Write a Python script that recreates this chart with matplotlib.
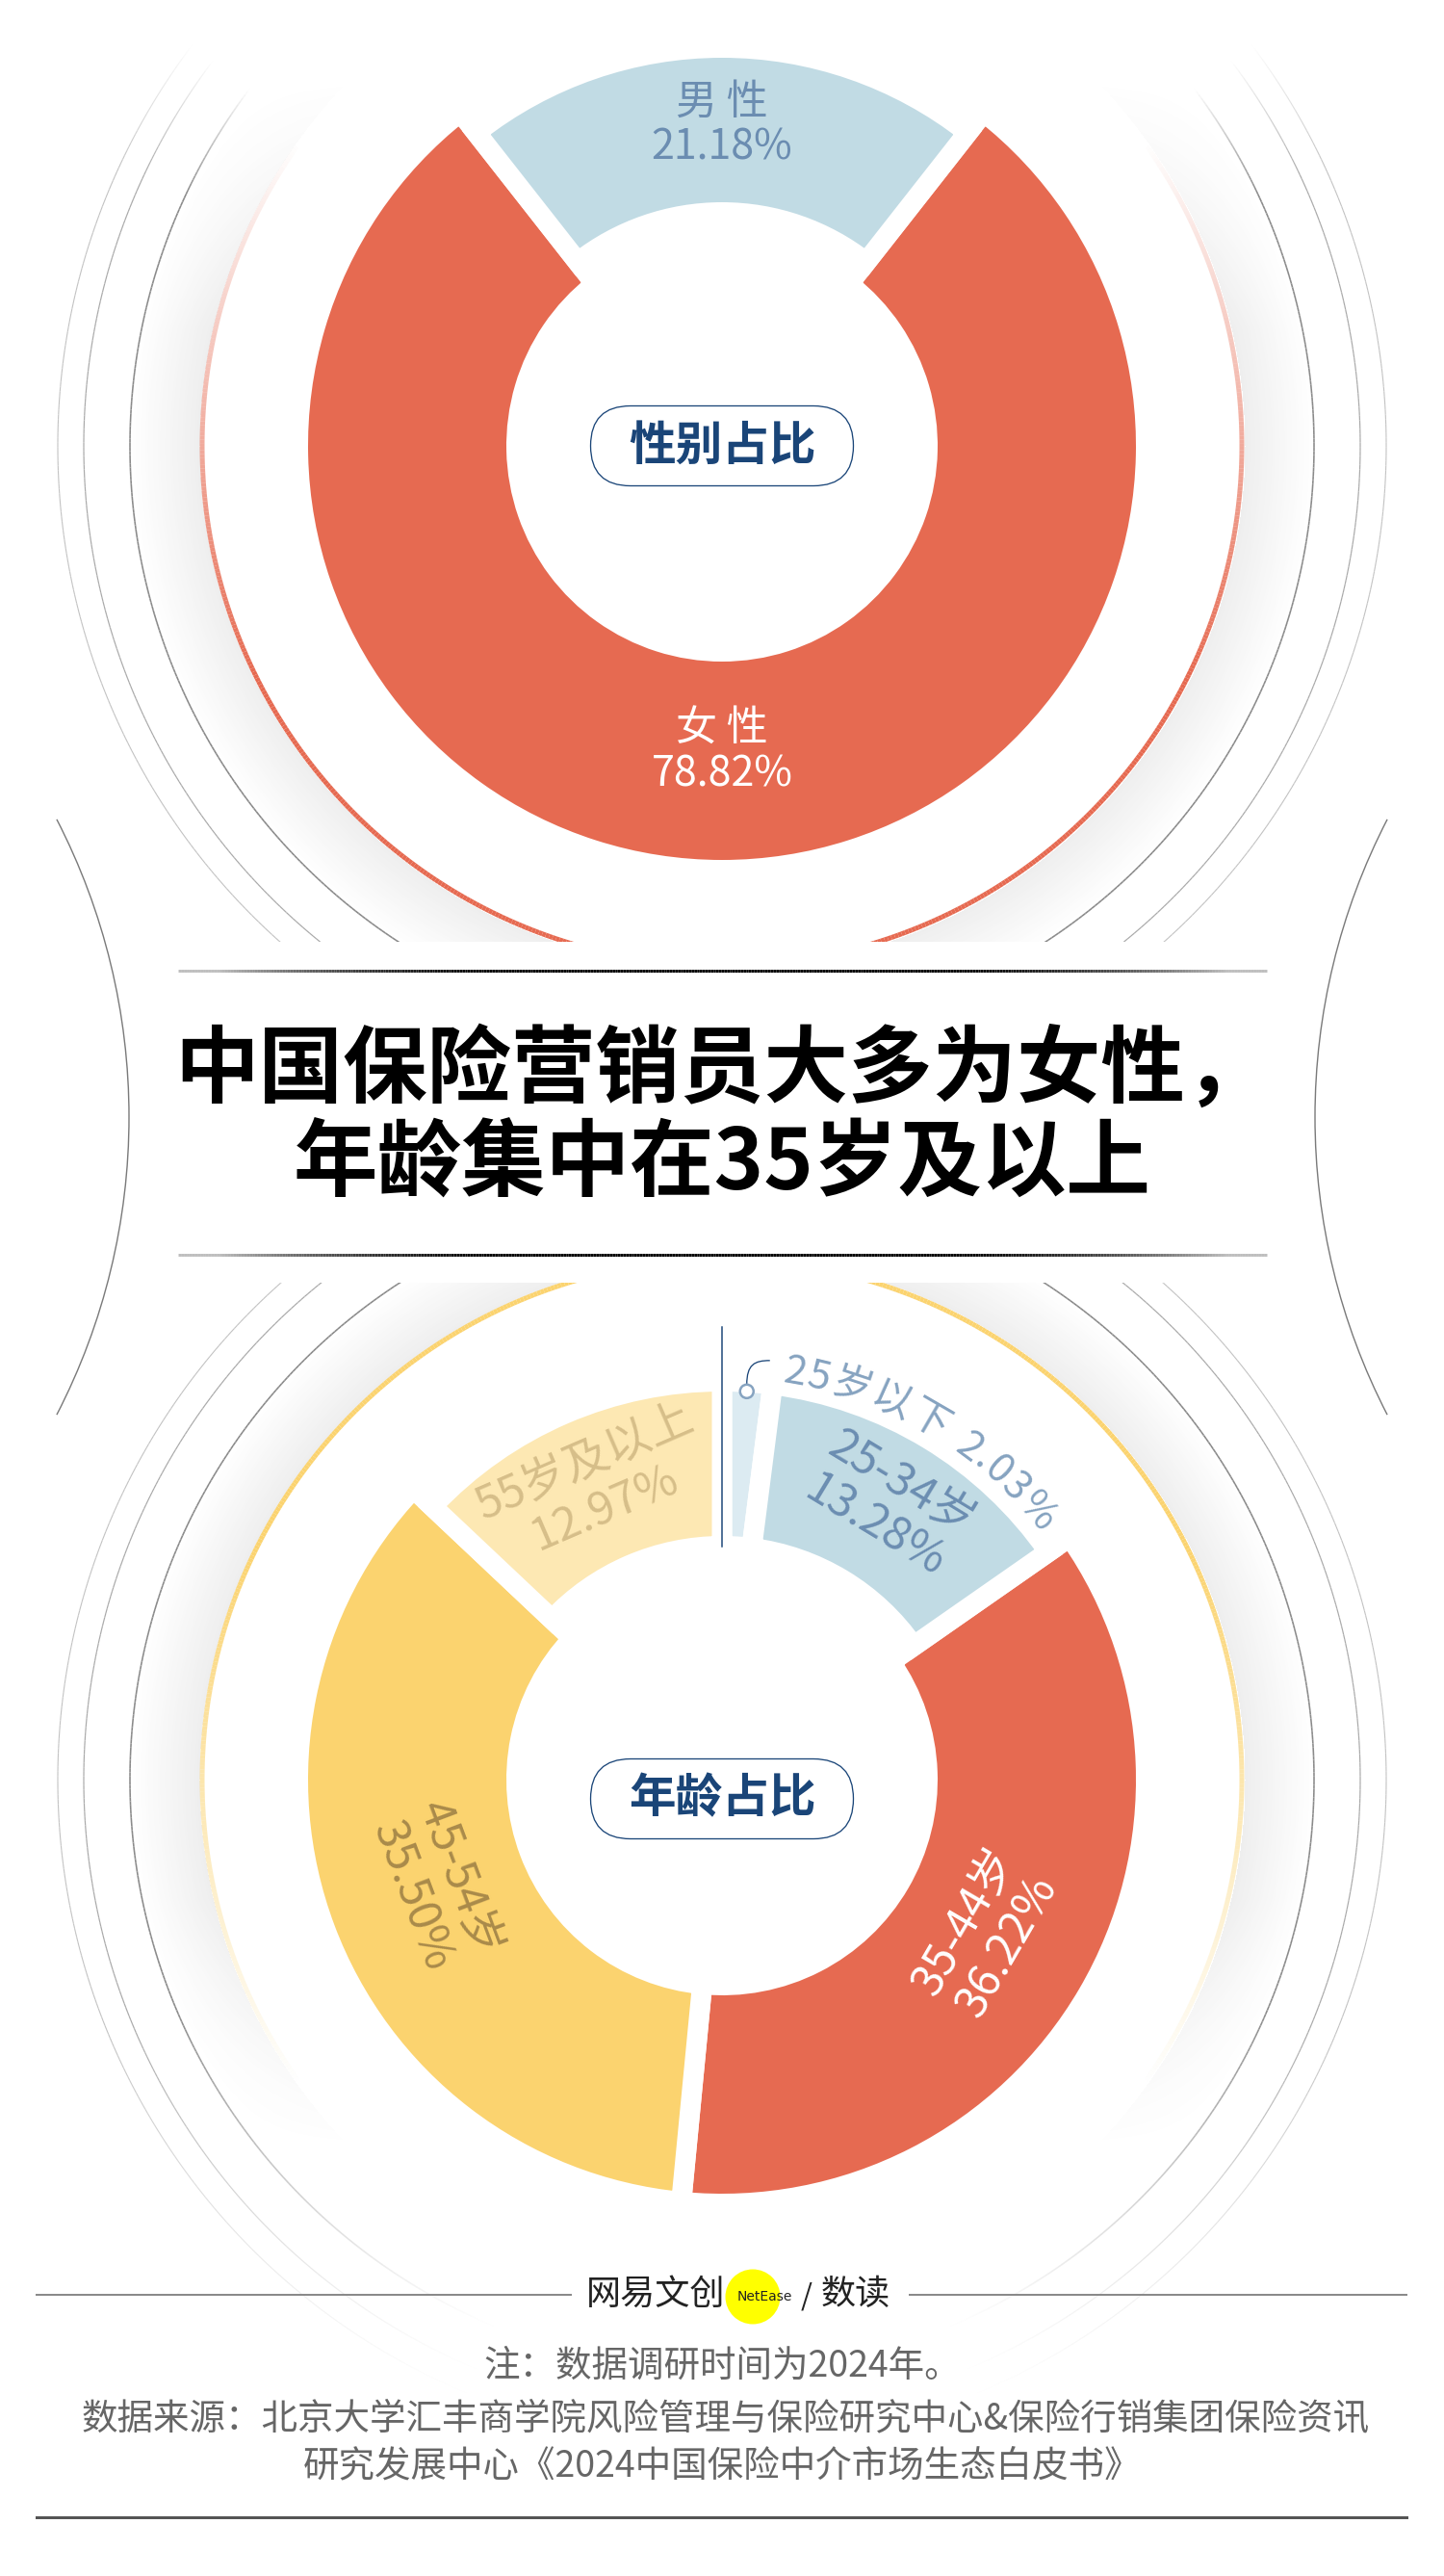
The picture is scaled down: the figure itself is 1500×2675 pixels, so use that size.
import numpy as np
import matplotlib
import matplotlib.pyplot as plt
from matplotlib.collections import LineCollection
from matplotlib.patches import FancyBboxPatch, Circle, Rectangle, Arc, PathPatch
from matplotlib.path import Path
from matplotlib.font_manager import FontProperties

plt.rcParams['font.family'] = ['Noto Sans CJK SC', 'DejaVu Sans']

# ---- data
gender_labels = ['男 性', '女 性']
gender_share = [21.18, 78.82]
age_labels = ['25岁以下', '25-34岁', '35-44岁', '45-54岁', '55岁及以上']
age_share = [2.03, 13.28, 36.22, 35.50, 12.97]
title_lines = ['中国保险营销员大多为女性，', '年龄集中在35岁及以上']
center_titles = ['性别占比', '年龄占比']
note_text = '注：数据调研时间为2024年。'
source_lines = ['数据来源：北京大学汇丰商学院风险管理与保险研究中心&保险行销集团保险资讯',
                '研究发展中心《2024中国保险中介市场生态白皮书》']

# ---- style
W, H = 1500, 2675
CX = 750
TOP_CY, BOT_CY = 463, 1848
CORAL, BLUE, PALE_BLUE = '#e66a51', '#c1dbe4', '#dcebf2'
YELLOW, PALE_YELLOW = '#fbd36f', '#fde8b3'
NAVY = '#1a4578'
gender_colors = [BLUE, CORAL]
gender_thick = [False, True]
gender_text = ['#6b8db1', 'white']
age_colors = [PALE_BLUE, BLUE, CORAL, YELLOW, PALE_YELLOW]
age_thick = [False, False, True, True, False]
age_text = ['#86a3c0', '#6b8db1', 'white', '#a98a4a', '#d6be89']
PX = 0.72  # points per pixel at dpi 100


def Y(y):
    return H - y


fig = plt.figure(figsize=(15, 26.75), dpi=100)
ax = fig.add_axes([0, 0, 1, 1])

# soft grey shadow outside the coloured rings
yy, xx = np.mgrid[0:H, 0:W].astype(np.float32)
shade = np.zeros((H, W), np.float32)
for cy, flip in [(TOP_CY, False), (BOT_CY, True)]:
    d = np.hypot(xx - CX, yy - cy)
    radial = np.clip(1 - (d - 543) / 72, 0, 1) * (d > 543)
    ym = (TOP_CY + cy - yy) if flip else yy
    ang = np.clip((ym - 80) / 260, 0, 1)
    shade += 0.11 * radial * ang
rgba = np.zeros((H, W, 4), np.float32)
rgba[..., :3] = 0.4
rgba[..., 3] = shade
ax.imshow(rgba, extent=(0, W, 0, H), origin='upper', interpolation='nearest', zorder=0)


def grad_arc(cy, r, color, lw_px, alpha_of, n=900, z=1):
    th = np.deg2rad(np.linspace(0, 360, n))
    x = CX + r * np.sin(th)
    y = cy - r * np.cos(th)
    pts = np.column_stack([x, Y(y)])
    segs = np.stack([pts[:-1], pts[1:]], axis=1)
    ymid = (y[:-1] + y[1:]) / 2
    thmid = np.rad2deg((th[:-1] + th[1:]) / 2)
    a = np.clip(alpha_of(thmid, ymid), 0, 1)
    rgb = np.array(matplotlib.colors.to_rgb(color))
    cols = np.column_stack([np.tile(rgb, (len(a), 1)), a])
    ax.add_collection(LineCollection(segs, colors=cols, linewidths=lw_px * PX,
                                     zorder=z, capstyle='butt'))


grey_rings = [(615, '#8a8a8a', 1.6), (663, '#a9a9a9', 1.2), (690, '#c2c2c2', 1.1)]

# top donut rings
grad_arc(TOP_CY, 540, CORAL, 5, lambda t, y: (y - 150) / 550)
for r, c, lw in grey_rings:
    grad_arc(TOP_CY, r, c, lw, lambda t, y: (np.minimum(t, 360 - t) - 53) / 12)
# bottom donut rings
grad_arc(BOT_CY, 540, YELLOW, 5, lambda t, y: ((TOP_CY + BOT_CY - y) - 150) / 550)
for r, c, lw in grey_rings:
    grad_arc(BOT_CY, r, c, lw, lambda t, y: ((np.abs(180 - t) - 22) / 45) ** 1.5)

# title band
ax.add_patch(Rectangle((0, Y(1332)), W, 1332 - 978, fc='white', ec='none', zorder=3))
ax.add_patch(Arc((-540, Y(1160)), 1348, 1348, theta1=-27.3, theta2=27.3,
                 color='#7a7a7a', lw=1.4 * PX, zorder=4))
ax.add_patch(Arc((2040, Y(1160)), 1348, 1348, theta1=152.7, theta2=207.3,
                 color='#7a7a7a', lw=1.4 * PX, zorder=4))


def grad_hline(y, x0, x1, lw_px):
    xs = np.linspace(x0, x1, 400)
    pts = np.column_stack([xs, np.full_like(xs, Y(y))])
    segs = np.stack([pts[:-1], pts[1:]], axis=1)
    t = np.abs(((xs[:-1] + xs[1:]) / 2 - (x0 + x1) / 2) / ((x1 - x0) / 2))
    a = np.clip(1.05 - t ** 3, 0.25, 1)
    cols = np.column_stack([np.zeros((len(a), 3)), a])
    ax.add_collection(LineCollection(segs, colors=cols, linewidths=lw_px * PX,
                                     zorder=4, capstyle='butt'))


grad_hline(1008, 185, 1316, 3)
grad_hline(1303, 185, 1316, 3)
ax.text(CX, Y(1113), title_lines[0], ha='center', va='center', fontsize=63,
        fontweight='black', color='black', zorder=5)
ax.text(CX, Y(1210), title_lines[1], ha='center', va='center', fontsize=63,
        fontweight='black', color='black', zorder=5)


# donuts; angles are clockwise from 12 o'clock, start_cw is where the first slice begins
def donut(cy, shares, colors, thick, start_cw=0.0):
    gap = 21
    for big, r_out, r_in in [(True, 430, 224), (False, 403, 253)]:
        wedges, _ = ax.pie(shares, colors=colors, startangle=90 - start_cw,
                           counterclock=False, center=(CX, Y(cy)), radius=r_out + gap / 2,
                           wedgeprops=dict(width=r_out - r_in + gap, edgecolor='white',
                                           linewidth=gap * PX))
        for w, t in zip(wedges, thick):
            w.set_visible(t == big)
            w.set_zorder(2)


def mid_angles(shares, start_cw=0.0):
    s = np.asarray(shares, float)
    return start_cw + (np.cumsum(s) - s / 2) / s.sum() * 360


def wedge_label(cy, ang, thick, l1, l2, color, rotate, fs=31):
    r = 318 if thick else 333
    th = np.deg2rad(ang)
    x, y = CX + r * np.sin(th), Y(cy) + r * np.cos(th)
    rot = 0
    if rotate:
        rot = (-ang) % 360
        if 90 < rot <= 270:
            rot -= 180
        elif rot > 270:
            rot -= 360
    up = np.deg2rad(rot + 90)
    off = 0.55 * fs / PX
    for txt, sgn in [(l1, 1), (l2, -1)]:
        ax.text(x + sgn * off * np.cos(up), y + sgn * off * np.sin(up), txt,
                rotation=rot, rotation_mode='anchor', ha='center', va='center',
                fontsize=fs, color=color, zorder=5)


def center_box(cy, label, dy=0):
    yc = Y(cy + dy)
    ax.add_patch(FancyBboxPatch((CX - 136.5, yc - 41.5), 273, 83,
                                boxstyle='round,pad=0,rounding_size=41.5',
                                fc='white', ec=NAVY, lw=1.3 * PX, zorder=5))
    ax.text(CX, yc, label, ha='center', va='center', fontsize=35,
            fontweight='bold', color=NAVY, zorder=6)


# male slice centred on 12 o'clock
g_start = -gender_share[0] / sum(gender_share) * 180
donut(TOP_CY, gender_share, gender_colors, gender_thick, g_start)
for a, lab, s, t, c in zip(mid_angles(gender_share, g_start), gender_labels, gender_share,
                           gender_thick, gender_text):
    wedge_label(TOP_CY, a, t, lab, f'{s:.2f}%', c, rotate=False, fs=31)
center_box(TOP_CY, center_titles[0])

donut(BOT_CY, age_share, age_colors, age_thick)
age_mid = mid_angles(age_share)
for i in range(1, len(age_share)):
    wedge_label(BOT_CY, age_mid[i], age_thick[i], age_labels[i],
                f'{age_share[i]:.2f}%', age_text[i], rotate=True, fs=34)
center_box(BOT_CY, center_titles[1], dy=20)

# divider line at 12 o'clock
ax.plot([CX, CX], [Y(BOT_CY - 242), Y(BOT_CY - 470)], color=NAVY, lw=1.5 * PX, zorder=5)

# callout for smallest slice
th0 = np.deg2rad(age_mid[0])
mx, my = CX + 404 * np.sin(th0), Y(BOT_CY) + 404 * np.cos(th0)
hook = Path([(mx, my + 7), (mx, my + 28), (mx + 8, my + 32), (mx + 24, my + 32)],
            [Path.MOVETO, Path.CURVE4, Path.CURVE4, Path.CURVE4])
ax.add_patch(PathPatch(hook, fc='none', ec=NAVY, lw=1.3 * PX, zorder=5))
ax.add_patch(Circle((mx, my), 7, fc='white', ec=age_text[0], lw=2.5 * PX, zorder=6))

fig.canvas.draw()
renderer = fig.canvas.get_renderer()
fs = 30
fp = FontProperties(family=['Noto Sans CJK SC'], size=fs)
r_base = 418
s_arc = np.deg2rad(8.6) * r_base
for ch in f'{age_labels[0]} {age_share[0]:.2f}%':
    if ch == ' ':
        w = 0.3 * fs / PX
    else:
        w = renderer.get_text_width_height_descent(ch, fp, ismath=False)[0]
    th = (s_arc + w / 2) / r_base
    ax.text(CX + r_base * np.sin(th), Y(BOT_CY) + r_base * np.cos(th), ch,
            rotation=-np.degrees(th), rotation_mode='anchor', ha='center',
            va='baseline', fontproperties=fp, color=age_text[0], zorder=5)
    s_arc += w + 1.5

# footer
ax.plot([38, 593], [Y(2383)] * 2, color='#8a8a8a', lw=2 * PX)
ax.plot([945, 1461], [Y(2383)] * 2, color='#8a8a8a', lw=2 * PX)
ax.add_patch(Circle((782, Y(2385)), 28.5, fc='#ffff00', ec='none', zorder=2))
ax.text(681, Y(2383), '网易文创', ha='center', va='center', fontsize=26, color='#222222', zorder=3)
ax.text(794, Y(2385), 'NetEase', ha='center', va='center', fontsize=10,
        family='DejaVu Sans', color='#222222', zorder=3)
ax.text(838, Y(2385), '/', ha='center', va='center', fontsize=22, color='#222222', zorder=3)
ax.text(889, Y(2383), '数读', ha='center', va='center', fontsize=26, color='#222222', zorder=3)

ax.text(CX, Y(2457), note_text, ha='center', va='center', fontsize=27, color='#666666')
ax.text(CX + 4, Y(2513), source_lines[0], ha='center', va='center', fontsize=27, color='#666666')
ax.text(CX, Y(2561), source_lines[1], ha='center', va='center', fontsize=27, color='#666666')
ax.plot([38, 1461], [Y(2614)] * 2, color='#555555', lw=3 * PX)

ax.set_xlim(0, W)
ax.set_ylim(0, H)
ax.set_aspect('equal')
ax.axis('off')
fig.savefig('out.png', dpi=100, facecolor='white')
